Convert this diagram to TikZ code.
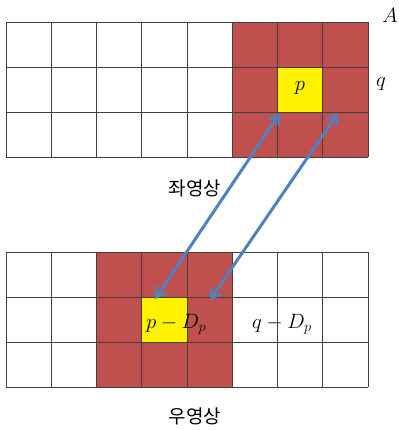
\documentclass[tikz,border=0pt]{standalone}
\usepackage{fontspec}
\newfontfamily\kr{Noto Sans CJK KR}
\usetikzlibrary{arrows.meta}
\definecolor{cellred}{HTML}{C0504D}
\definecolor{arrowblue}{HTML}{4F81BD}
\begin{document}
\begin{tikzpicture}[x=1pt,y=-1pt,
  gridline/.style={draw=black!75,line width=0.8pt},
  redcell/.style={fill=cellred},
  yelcell/.style={fill=yellow},
  lbl/.style={inner sep=0pt,font=\fontsize{21}{24}\selectfont},
  kor/.style={inner sep=0pt,font=\kr\fontsize{19}{22}\selectfont},
  dbl/.style={draw=arrowblue,line width=3pt,{Straight Barb[length=9pt,width=12pt,line width=2.6pt]}-{Straight Barb[length=9pt,width=12pt,line width=2.6pt]}}]
\useasboundingbox (0,0) rectangle (398,430);
% top grid
\fill[redcell] (233,22) rectangle (368,157);
\fill[yelcell] (278,67) rectangle (323,112);
\foreach \i in {0,...,8}{\draw[gridline] ({6+45.25*\i},22) -- ({6+45.25*\i},157);}
\foreach \j in {0,...,3}{\draw[gridline] (6,{22+45*\j}) -- (368,{22+45*\j});}
% bottom grid
\fill[redcell] (97,252) rectangle (233,387);
\fill[yelcell] (142,297) rectangle (187,342);
\foreach \i in {0,...,8}{\draw[gridline] ({6+45.25*\i},252) -- ({6+45.25*\i},387);}
\foreach \j in {0,...,3}{\draw[gridline] (6,{252+45*\j}) -- (368,{252+45*\j});}
% labels
\node[lbl] (A) at (390,15) {$A$};
\node[lbl] (q) at (381,84) {$q$};
\node[lbl] (p) at (300,88) {$p$};
\node[kor] (left) at (195,188) {좌영상};
\node[kor] (right) at (195,416) {우영상};
\node[lbl,anchor=west] (pd) at (146,324) {$p-D_p$};
\node[lbl] (qd) at (282,324) {$q-D_p$};
% arrows
\coordinate (a1t) at (280,113);
\coordinate (a1b) at (155,299);
\coordinate (a2t) at (338,113);
\coordinate (a2b) at (210,300);
\draw[dbl] (a1b) -- (a1t);
\draw[dbl] (a2b) -- (a2t);
\end{tikzpicture}
\end{document}
